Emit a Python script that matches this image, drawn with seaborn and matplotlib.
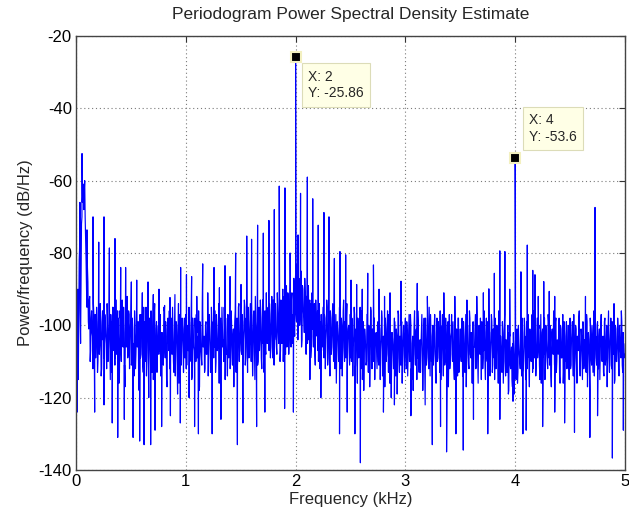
import numpy as np
import pandas as pd
import matplotlib
matplotlib.use("Agg")
import matplotlib.pyplot as plt
import seaborn as sns

# ---------------- data ----------------
BINS_PER_KHZ = 120  # spacing of each broadband noise list below

# noise samples on the bins k / 120 kHz
noise_db = [
    # 0.00 - 0.25 kHz
    -84, -112, -90, -98, -78, -105, -72, -66, -61, -63, -70, -82, -95, -88, -101,
    -92, -107, -96, -103, -94, -108, -97, -104, -99, -110, -95, -105, -100, -112, -96,
    # 0.25 - 0.50
    -96, -108, -99, -105, -94, -110, -100, -104, -97, -113, -95, -106, -101, -109, -93,
    -104, -98, -116, -96, -107, -100, -103, -95, -111, -99, -106, -92, -108, -97, -105,
    # 0.50 - 0.75
    -98, -110, -101, -107, -96, -112, -102, -106, -99, -118, -97, -108, -103, -111, -95,
    -106, -100, -114, -98, -109, -102, -105, -96, -113, -101, -108, -94, -110, -99, -107,
    # 0.75 - 1.00
    -100, -107, -97, -112, -102, -109, -95, -106, -99, -115, -101, -104, -96, -110, -98,
    -108, -103, -113, -97, -105, -100, -119, -94, -107, -102, -111, -98, -106, -101, -109,
    # 1.00 - 1.25
    -97, -111, -103, -106, -99, -108, -95, -114, -101, -107, -98, -110, -102, -105, -96,
    -117, -100, -109, -94, -106, -103, -112, -99, -108, -97, -104, -101, -113, -95, -107,
    # 1.25 - 1.50
    -99, -106, -96, -110, -101, -105, -94, -112, -98, -108, -100, -104, -95, -115, -102,
    -107, -97, -109, -93, -106, -99, -111, -101, -105, -96, -113, -98, -108, -94, -106,
    # 1.50 - 1.75
    -96, -108, -99, -104, -93, -111, -98, -106, -95, -109, -100, -103, -94, -114, -97,
    -105, -92, -108, -99, -110, -95, -104, -98, -112, -93, -106, -97, -107, -91, -105,
    # 1.75 - 2.00
    -95, -107, -97, -103, -92, -109, -96, -104, -94, -106, -91, -102, -95, -110, -93,
    -105, -90, -103, -94, -108, -89, -101, -92, -104, -88, -106, -91, -100, -87, -103,
    # 2.00 - 2.25
    -86, -99, -83, -102, -88, -97, -85, -104, -90, -98, -87, -101, -92, -105, -89,
    -100, -94, -107, -91, -103, -95, -108, -93, -102, -96, -110, -94, -104, -97, -106,
    # 2.25 - 2.50
    -95, -109, -98, -104, -93, -111, -99, -106, -96, -108, -100, -103, -94, -112, -97,
    -107, -101, -110, -95, -105, -98, -114, -96, -106, -99, -109, -94, -104, -100, -111,
    # 2.50 - 2.75
    -97, -110, -100, -106, -95, -113, -101, -107, -98, -109, -102, -105, -96, -115, -99,
    -108, -103, -111, -97, -106, -100, -117, -95, -108, -101, -110, -98, -105, -102, -112,
    # 2.75 - 3.00
    -99, -111, -101, -107, -96, -114, -103, -108, -98, -110, -100, -106, -97, -116, -102,
    -109, -104, -112, -98, -107, -101, -119, -96, -109, -103, -111, -99, -106, -100, -113,
    # 3.00 - 3.25
    -98, -112, -102, -108, -97, -110, -100, -115, -103, -107, -96, -111, -101, -109, -99,
    -113, -104, -106, -97, -118, -102, -108, -98, -111, -100, -107, -95, -114, -103, -109,
    # 3.25 - 3.50
    -100, -108, -97, -113, -102, -110, -99, -106, -96, -115, -101, -109, -103, -111, -98,
    -107, -100, -117, -97, -110, -102, -108, -99, -112, -96, -106, -101, -114, -98, -109,
    # 3.50 - 3.75
    -101, -110, -98, -107, -103, -113, -97, -109, -100, -111, -96, -108, -102, -116, -99,
    -106, -101, -112, -97, -110, -103, -107, -98, -115, -100, -109, -96, -111, -102, -108,
    # 3.75 - 4.00
    -99, -110, -102, -108, -97, -113, -101, -109, -98, -112, -100, -107, -96, -114, -103,
    -111, -99, -116, -101, -110, -104, -113, -100, -118, -103, -112, -106, -117, -102, -119,
    # 4.00 - 4.25
    -104, -115, -101, -113, -105, -110, -99, -114, -102, -111, -98, -109, -103, -112, -97,
    -110, -101, -108, -99, -113, -96, -109, -102, -111, -98, -107, -100, -115, -97, -110,
    # 4.25 - 4.50
    -101, -108, -98, -112, -103, -110, -97, -109, -100, -114, -102, -107, -96, -111, -99,
    -113, -104, -108, -98, -116, -101, -109, -97, -112, -103, -110, -99, -107, -100, -115,
    # 4.50 - 4.75
    -98, -111, -102, -108, -97, -113, -100, -110, -103, -107, -96, -114, -101, -109, -99,
    -112, -104, -108, -97, -117, -102, -110, -98, -109, -100, -113, -96, -108, -103, -111,
    # 4.75 - 5.00
    -99, -112, -101, -108, -97, -110, -103, -114, -98, -109, -100, -107, -96, -113, -102,
    -111, -99, -108, -97, -115, -101, -110, -98, -112, -100, -107, -96, -111, -102, -109,
]

# noise samples on the half-way bins (k + 0.5) / 120 kHz
noise_mid_db = [
    # 0.00 - 0.25 kHz
    -100, -94, -115, -82, -96, -88, -70, -62, -68, -60, -76, -90, -84, -99, -93,
    -110, -98, -102, -112, -97, -100, -109, -95, -113, -98, -108, -94, -114, -99, -104,
    # 0.25 - 0.50
    -109, -97, -103, -112, -98, -106, -94, -115, -101, -99, -107, -95, -111, -100, -108,
    -96, -104, -113, -98, -110, -93, -106, -102, -117, -97, -105, -109, -96, -112, -100,
    # 0.50 - 0.75
    -111, -98, -105, -114, -100, -108, -96, -103, -116, -101, -109, -97, -106, -113, -99,
    -110, -95, -107, -104, -120, -98, -111, -102, -106, -115, -97, -108, -101, -113, -103,
    # 0.75 - 1.00
    -108, -99, -114, -102, -105, -111, -96, -109, -103, -117, -98, -107, -112, -100, -106,
    -95, -110, -104, -114, -99, -108, -102, -116, -97, -110, -105, -101, -113, -98, -106,
    # 1.00 - 1.25
    -112, -100, -107, -95, -110, -104, -115, -98, -106, -112, -101, -97, -109, -103, -118,
    -99, -107, -111, -96, -105, -113, -100, -108, -102, -114, -97, -106, -110, -99, -104,
    # 1.25 - 1.50
    -109, -101, -113, -97, -107, -104, -116, -99, -111, -95, -106, -110, -102, -98, -108,
    -114, -100, -105, -112, -96, -109, -103, -117, -99, -107, -101, -111, -95, -110, -103,
    # 1.50 - 1.75
    -107, -97, -112, -101, -95, -109, -104, -113, -99, -106, -94, -110, -102, -108, -96,
    -115, -100, -103, -111, -97, -107, -93, -109, -101, -105, -113, -96, -108, -102, -99,
    # 1.75 - 2.00
    -104, -94, -109, -99, -106, -93, -111, -97, -103, -108, -95, -105, -90, -107, -100,
    -96, -110, -92, -104, -99, -106, -91, -108, -95, -102, -93, -105, -97, -101, -89,
    # 2.00 - 2.25
    -97, -92, -104, -87, -100, -93, -106, -89, -96, -102, -91, -108, -95, -99, -104,
    -93, -109, -97, -101, -106, -94, -111, -98, -103, -107, -95, -112, -99, -105, -101,
    # 2.25 - 2.50
    -107, -97, -112, -101, -95, -109, -103, -114, -98, -106, -94, -110, -101, -105, -116,
    -99, -104, -108, -96, -112, -100, -107, -93, -110, -103, -98, -113, -101, -106, -97,
    # 2.50 - 2.75
    -109, -98, -114, -103, -97, -111, -105, -116, -100, -107, -95, -112, -103, -108, -118,
    -101, -106, -110, -97, -113, -102, -109, -96, -112, -105, -99, -115, -103, -107, -100,
    # 2.75 - 3.00
    -110, -100, -115, -104, -98, -112, -106, -117, -101, -108, -96, -113, -104, -109, -120,
    -102, -107, -111, -99, -114, -103, -110, -97, -113, -106, -100, -116, -104, -108, -101,
    # 3.00 - 3.25
    -107, -99, -114, -103, -110, -97, -112, -105, -118, -100, -108, -102, -115, -96, -109,
    -106, -113, -101, -107, -111, -98, -116, -104, -109, -100, -112, -105, -97, -110, -103,
    # 3.25 - 3.50
    -111, -101, -107, -116, -98, -109, -104, -113, -100, -108, -97, -114, -105, -110, -102,
    -119, -99, -107, -112, -103, -97, -110, -106, -115, -101, -109, -104, -98, -113, -106,
    # 3.50 - 3.75
    -108, -102, -114, -99, -110, -105, -117, -101, -107, -112, -98, -109, -104, -100, -113,
    -106, -97, -111, -103, -116, -100, -108, -105, -99, -112, -107, -102, -115, -98, -110,
    # 3.75 - 4.00
    -109, -101, -114, -104, -99, -111, -106, -115, -100, -108, -103, -116, -98, -110, -106,
    -113, -102, -109, -97, -114, -107, -104, -119, -102, -111, -108, -115, -105, -112, -109,
    # 4.00 - 4.25
    -111, -103, -116, -100, -108, -112, -104, -98, -113, -106, -101, -115, -99, -109, -105,
    -117, -103, -110, -97, -112, -107, -100, -114, -104, -109, -101, -111, -106, -116, -102,
    # 4.25 - 4.50
    -109, -103, -115, -100, -107, -112, -99, -111, -105, -117, -101, -108, -104, -113, -98,
    -110, -106, -102, -114, -100, -109, -105, -116, -99, -108, -103, -112, -106, -110, -101,
    # 4.50 - 4.75
    -112, -104, -99, -114, -106, -109, -101, -116, -105, -98, -111, -107, -103, -115, -100,
    -110, -106, -113, -99, -108, -104, -118, -101, -111, -107, -102, -114, -105, -109, -100,
    # 4.75 - 5.00
    -110, -103, -115, -100, -108, -106, -113, -99, -111, -104, -117, -101, -109, -105, -98,
    -112, -107, -103, -116, -100, -110, -106, -101, -114, -104, -109, -99, -113, -105, -108,
]

# narrow harmonic lines (frequency in kHz, level in dB/Hz)
line_khz = [0.036, 0.055, 0.07, 0.10, 0.155, 0.207, 0.255, 0.304, 0.355, 0.407,
            0.452, 0.504, 0.553, 0.604, 0.656, 0.704, 0.756, 0.807, 0.856, 0.901,
            0.953, 1.006, 1.053, 1.10, 1.154, 1.20, 1.257, 1.306, 1.357, 1.403,
            1.454, 1.503, 1.555, 1.599, 1.654, 1.706, 1.757, 1.806, 1.851, 1.903,
            1.95, 2.0, 2.022, 2.045, 2.107, 2.156, 2.206, 2.258, 2.304, 2.353,
            2.404, 2.456, 2.505, 2.556, 2.607, 2.657, 2.709, 2.76, 2.81, 2.86,
            2.96, 3.108, 3.2, 3.35, 3.45, 3.56, 3.65, 3.71, 3.76, 3.81,
            3.86, 3.906, 3.95, 4.0, 4.052, 4.11, 4.16, 4.18, 4.21, 4.26,
            4.31, 4.36, 4.64, 4.727, 4.9]
line_db = [-66, -52.5, -61, -73.6, -70, -77, -70, -78.6, -76, -84,
           -84, -88, -87.5, -91, -88, -91.5, -90, -94.5, -92.3, -91.5,
           -84, -86, -86.5, -92, -83, -91, -84, -89.6, -83.5, -86.5,
           -80, -88.7, -75.3, -76.2, -72.3, -74.5, -71, -68, -61.5, -62,
           -80, -25.86, -75, -63.5, -59, -65, -72.3, -68.8, -70, -81.5,
           -79.6, -80.5, -87.5, -88.7, -90, -85.6, -83.3, -90, -92, -91,
           -87.8, -88.4, -92, -91, -92, -93, -92, -91, -89.9, -85.6,
           -79.4, -79.6, -90, -53.6, -85.2, -77.8, -84.8, -86, -92, -87.9,
           -90.6, -92, -92, -67.4, -94]

# deep downward excursions
dip_khz = [0.01, 0.17, 0.255, 0.33, 0.38, 0.44, 0.52, 0.58, 0.62, 0.68,
           0.72, 0.78, 0.86, 0.95, 1.03, 1.08, 1.115, 1.24, 1.32, 1.47,
           1.52, 1.645, 1.72, 1.9, 1.98, 2.13, 2.23, 2.40, 2.47, 2.54,
           2.59, 2.8, 2.9, 3.05, 3.18, 3.245, 3.32, 3.375, 3.46, 3.527,
           3.62, 3.75, 3.86, 3.98, 4.07, 4.10, 4.25, 4.36, 4.45, 4.54,
           4.68, 4.75, 4.885, 4.985]
dip_db = [-124, -124, -122, -127, -131, -126, -131, -132, -133, -133,
          -129, -128, -125, -127, -120, -128, -130, -130, -126, -133,
          -127, -128, -124, -123, -124, -115, -120, -130, -124, -130,
          -138, -124, -122, -125, -122, -133, -128, -135, -130, -134.5,
          -126, -130, -126, -121, -130, -129, -128, -124, -127, -129.6,
          -131, -125, -136.7, -129]

# data tips
tip_khz = [2, 4]
tip_db = [-25.86, -53.6]

# ---------------- assemble ----------------
noise_khz = np.arange(len(noise_db)) / BINS_PER_KHZ
noise_mid_khz = (np.arange(len(noise_mid_db)) + 0.5) / BINS_PER_KHZ
df = pd.DataFrame({
    "freq": np.concatenate([noise_khz, noise_mid_khz, line_khz, dip_khz]),
    "psd": np.concatenate([noise_db, noise_mid_db, line_db, dip_db]),
}).sort_values("freq", kind="mergesort").reset_index(drop=True)

# ---------------- plot ----------------
sns.set_style("white")
plt.rcParams["font.family"] = ["Liberation Sans", "DejaVu Sans"]
plt.rcParams["axes.unicode_minus"] = False

fig = plt.figure(figsize=(6.29, 5.18), dpi=100)
ax = fig.add_axes([76 / 629, 1 - 470 / 518, 549 / 629, 434 / 518])

sns.lineplot(data=df, x="freq", y="psd", estimator=None, sort=False,
             color="#0000ff", lw=0.85, ax=ax)

ax.set_xlim(0, 5)
ax.set_ylim(-140, -20)
ax.set_xticks([0, 1, 2, 3, 4, 5])
ax.set_yticks([-140, -120, -100, -80, -60, -40, -20])
ax.grid(True, ls=(0, (1, 2.5)), color="#7a7a7a", lw=0.8)
ax.tick_params(axis="both", which="both", direction="in", length=4,
               top=True, right=True, labelsize=12, colors="#333333",
               labelcolor="black", pad=3)
for s in ax.spines.values():
    s.set_color("#444444")
    s.set_linewidth(1.0)
    s.set_visible(True)

ax.set_title("Periodogram Power Spectral Density Estimate", fontsize=12.5, pad=12)
ax.set_xlabel("Frequency (kHz)", fontsize=12, labelpad=2)
ax.set_ylabel("Power/frequency (dB/Hz)", fontsize=12, labelpad=4)

# data tip markers + boxes
ax.plot(tip_khz, tip_db, ls="none", marker="s", ms=7, mfc="black",
        mec="#f3f0c0", mew=1.5, zorder=5)
offsets = [((9, -9), "top"), ((10, 10), "bottom")]
for xk, yd, (off, va) in zip(tip_khz, tip_db, offsets):
    ax.annotate(f"X: {xk:g}\nY: {yd:g}", xy=(xk, yd), xytext=off,
                textcoords="offset points", ha="left", va=va, fontsize=10,
                linespacing=1.25, zorder=6,
                bbox=dict(boxstyle="square,pad=0.45", fc="#ffffe6",
                          ec="#dcdcb8", lw=0.8))

fig.savefig("out.png", dpi=100)
